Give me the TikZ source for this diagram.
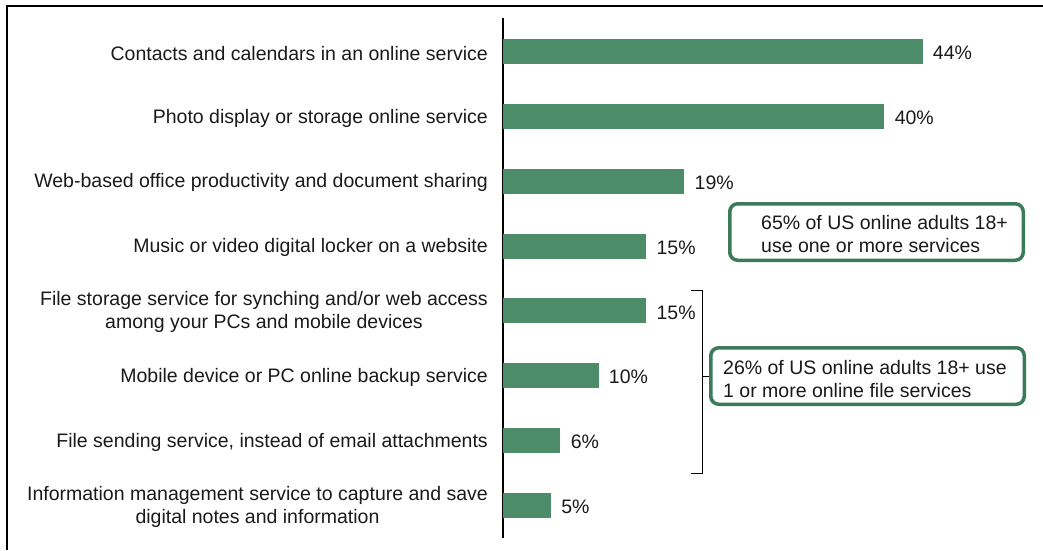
\documentclass[tikz,border=0pt]{standalone}
\usepackage{fontspec}
\setmainfont{Liberation Sans}
\definecolor{bargreen}{HTML}{4C8C69}
\definecolor{boxgreen}{HTML}{3B7A5A}
\definecolor{txt}{HTML}{1A1A1A}
\begin{document}
\begin{tikzpicture}[x=1pt,y=-1pt,
  every node/.style={font=\fontsize{19.5}{23}\selectfont, text=txt},
  bar/.style={fill=bargreen, draw=none, minimum height=25pt, inner sep=0pt, anchor=west},
  catlabel/.style={anchor=east, align=center, inner sep=0pt, yshift=-1.5pt},
  pct/.style={anchor=west, inner sep=0pt, yshift=-1.5pt},
  callout/.style={draw=boxgreen, line width=3.5pt, rounded corners=8pt, fill=white, inner sep=0pt},
  calltext/.style={anchor=west, align=left, inner sep=0pt}]
\useasboundingbox (0,0) rectangle (1043,550);
% frame
\draw[line width=2pt] (7,550) -- (7,6) -- (1043,6);
% axis
\draw[line width=1.2pt] (503,18) -- (503,538);
% bars
\node[bar, minimum width=419.3pt] (b1) at (503,51.7) {};
\node[bar, minimum width=381.2pt] (b2) at (503,116.5) {};
\node[bar, minimum width=181.1pt] (b3) at (503,181.3) {};
\node[bar, minimum width=143pt]   (b4) at (503,246.1) {};
\node[bar, minimum width=143pt]   (b5) at (503,310.9) {};
\node[bar, minimum width=95.3pt]  (b6) at (503,375.7) {};
\node[bar, minimum width=57.2pt]  (b7) at (503,440.5) {};
\node[bar, minimum width=47.7pt]  (b8) at (503,505.3) {};
% values
\node[pct] (p1) at ([xshift=10pt]b1.east) {44\%};
\node[pct] (p2) at ([xshift=10pt]b2.east) {40\%};
\node[pct] (p3) at ([xshift=10pt]b3.east) {19\%};
\node[pct] (p4) at ([xshift=10pt]b4.east) {15\%};
\node[pct] (p5) at ([xshift=10pt]b5.east) {15\%};
\node[pct] (p6) at ([xshift=10pt]b6.east) {10\%};
\node[pct] (p7) at ([xshift=10pt]b7.east) {6\%};
\node[pct] (p8) at ([xshift=10pt]b8.east) {5\%};
% category labels
\node[catlabel] (l1) at (488,51.7) {Contacts and calendars in an online service};
\node[catlabel] (l2) at (488,116.5) {Photo display or storage online service};
\node[catlabel] (l3) at (488,181.3) {Web-based office productivity and document sharing};
\node[catlabel] (l4) at (488,246.1) {Music or video digital locker on a website};
\node[catlabel] (l5) at (488,310.9) {File storage service for synching and/or web access\\among your PCs and mobile devices};
\node[catlabel] (l6) at (488,375.7) {Mobile device or PC online backup service};
\node[catlabel] (l7) at (488,440.5) {File sending service, instead of email attachments};
\node[catlabel] (l8) at (488,505.3) {Information management service to capture and save\\digital notes and information};
% callout boxes
\node[callout, minimum width=293.5pt, minimum height=56.5pt] (box1) at (876.5,232) {};
\node[calltext] (t1) at (761,234) {65\% of US online adults 18+\\use one or more services};
\node[callout, minimum width=313.5pt, minimum height=56.5pt] (box2) at (867.5,376) {};
\node[calltext] (t2) at (723,379) {26\% of US online adults 18+ use\\1 or more online file services};
% bracket
\coordinate (brtop) at (702,290);
\coordinate (brbot) at (702,473);
\coordinate (brmid) at (702,376);
\draw[line width=1pt] ([xshift=-11pt]brtop) -- (brtop) -- (brbot) -- ([xshift=-11pt]brbot);
\draw[line width=1pt] (brmid) -- (box2.west);
\end{tikzpicture}
\end{document}
